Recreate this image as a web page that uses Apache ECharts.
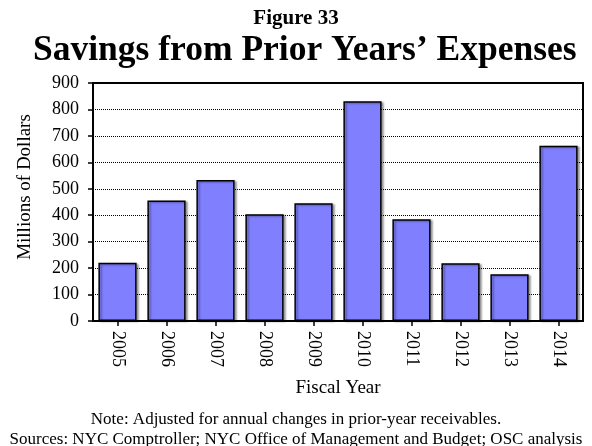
<!DOCTYPE html>
<html>
<head>
<meta charset="utf-8">
<script src="https://cdn.jsdelivr.net/npm/echarts@6/dist/echarts.min.js"></script>
<style>
  html, body { margin: 0; padding: 0; background: #fff; }
  #chart { width: 592px; height: 446px; }
</style>
</head>
<body>
<div id="chart"></div>
<script>
// fiscal years and savings (millions of dollars)
const years = ['2005', '2006', '2007', '2008', '2009', '2010', '2011', '2012', '2013', '2014'];
const savings = [220, 456, 533, 404, 445, 831, 385, 218, 177, 663];
const yTicks = [0, 100, 200, 300, 400, 500, 600, 700, 800, 900];

const serif = '"Liberation Serif", "Times New Roman", serif';
const chart = echarts.init(document.getElementById('chart'));

let option = {
  animation: false,
  backgroundColor: '#fff',
  title: [
    {
      text: 'Figure 33',
      left: 'center', top: 3,
      textStyle: {fontFamily: serif, fontSize: 21, fontWeight: 'bold', color: '#000'}
    },
    {
      text: 'Savings from Prior Years\u2019 Expenses',
      left: 28, top: 28,
      textStyle: {fontFamily: serif, fontSize: 35.5, fontWeight: 'bold', color: '#000'}
    },
    {
      text: 'Note: Adjusted for annual changes in prior-year receivables.',
      left: 'center', top: 406,
      textStyle: {fontFamily: serif, fontSize: 17, fontWeight: 'normal', color: '#000'}
    },
    {
      text: 'Sources: NYC Comptroller; NYC Office of Management and Budget; OSC analysis',
      left: 'center', top: 426,
      textStyle: {fontFamily: serif, fontSize: 17, fontWeight: 'normal', color: '#000'}
    }
  ],
  graphic: [
    {
      type: 'text',
      x: 25, y: 187,
      rotation: Math.PI / 2,
      style: {
        text: 'Millions of Dollars',
        font: '19px ' + serif,
        fill: '#000',
        align: 'center',
        verticalAlign: 'middle'
      }
    }
  ],
  grid: {
    left: 93, right: 9, top: 83, bottom: 125,
    show: true, borderColor: '#000', borderWidth: 2
  },
  xAxis: {
    type: 'category',
    data: years,
    name: 'Fiscal Year',
    nameLocation: 'middle',
    nameGap: 58,
    nameTextStyle: {fontFamily: serif, fontSize: 19, color: '#000'},
    axisLine: {lineStyle: {color: '#000', width: 2}},
    axisTick: {show: true, alignWithLabel: true, length: 5, lineStyle: {color: '#000', width: 1.5}},
    axisLabel: {rotate: -90, margin: 10, fontFamily: serif, fontSize: 18, color: '#000'}
  },
  yAxis: {
    type: 'value',
    min: yTicks[0], max: yTicks[yTicks.length - 1], interval: 100,
    axisLine: {show: true, lineStyle: {color: '#000', width: 2}},
    axisTick: {show: true, length: 5, lineStyle: {color: '#000', width: 1.5}},
    axisLabel: {margin: 14, fontFamily: serif, fontSize: 18, color: '#000'},
    splitLine: {show: true, lineStyle: {color: '#000', type: 'dotted', width: 1}}
  },
  series: [
    {
      type: 'bar',
      data: savings,
      barCategoryGap: '22%',
      itemStyle: {
        color: '#8080ff',
        borderColor: '#000',
        borderWidth: 1.5,
        shadowColor: 'rgba(0,0,0,0.35)',
        shadowOffsetX: 2,
        shadowOffsetY: 1,
        shadowBlur: 2
      }
    }
  ]
};
chart.setOption(option);
</script>
</body>
</html>
